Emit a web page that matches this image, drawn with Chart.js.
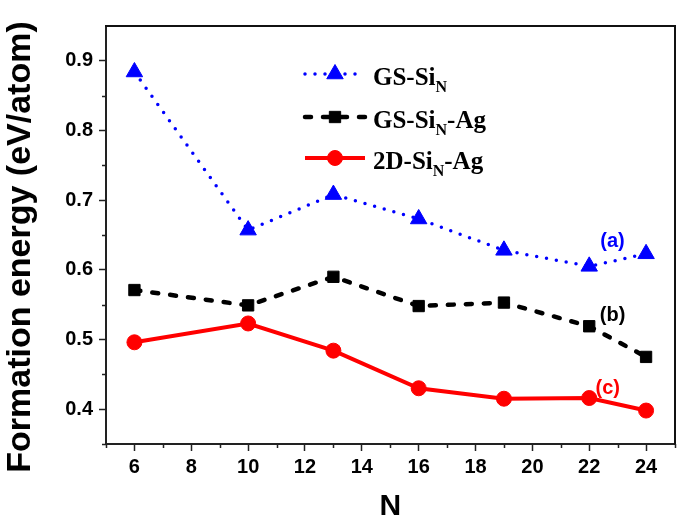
<!DOCTYPE html>
<html>
<head>
<meta charset="utf-8">
<script src="https://cdn.jsdelivr.net/npm/chart.js@4/dist/chart.umd.min.js"></script>
<style>
  html, body { margin: 0; padding: 0; background: #fff; overflow: hidden; }
  #wrap { width: 685px; height: 525px; }
  canvas { display: block; }
</style>
</head>
<body>
<div id="wrap"><canvas id="myChart" width="685" height="525"></canvas></div>
<script>
// Données
const nValues = [6, 10, 13, 16, 19, 22, 24];
const gsSi = [0.884, 0.657, 0.708, 0.673, 0.628, 0.605, 0.623];
const gsSiAg = [0.571, 0.549, 0.590, 0.548, 0.553, 0.519, 0.475];
const twoDSiAg = [0.496, 0.523, 0.484, 0.430, 0.415, 0.416, 0.398];

const xTicks = [6, 8, 10, 12, 14, 16, 18, 20, 22, 24];
const xMinor = [5, 7, 9, 11, 13, 15, 17, 19, 21, 23, 25];
const yTicks = [0.4, 0.5, 0.6, 0.7, 0.8, 0.9];
const yMinor = [0.35, 0.45, 0.55, 0.65, 0.75, 0.85];

// Noms de la légende : [avant, indice, après]
const legendNames = [["GS-Si", "N", ""], ["GS-Si", "N", "-Ag"], ["2D-Si", "N", "-Ag"]];
const curveTags = ["(a)", "(b)", "(c)"];
const tagX = [22.82, 22.82, 22.65];
const tagY = [0.640, 0.535, 0.430];
const yTitle = "Formation energy (eV/atom)";

const couleurs = ["#0000ff", "#000000", "#ff0000"];
const axisColor = "#222";

function toPoints(ys) {
    return nValues.map((x, i) => ({x: x, y: ys[i]}));
}

const datasets = [
    {
        label: "GS-SiN", data: toPoints(gsSi),
        borderColor: couleurs[0], backgroundColor: couleurs[0],
        borderWidth: 3.5, borderDash: [0, 10], borderCapStyle: "round",
        pointStyle: "triangle", pointRadius: 9.5, pointBorderWidth: 1
    },
    {
        label: "GS-SiN-Ag", data: toPoints(gsSiAg),
        borderColor: couleurs[1], backgroundColor: couleurs[1],
        borderWidth: 4.5, borderDash: [6, 12], borderCapStyle: "round",
        pointStyle: "rect", pointRadius: 8, pointBorderWidth: 1
    },
    {
        label: "2D-SiN-Ag", data: toPoints(twoDSiAg),
        borderColor: couleurs[2], backgroundColor: couleurs[2],
        borderWidth: 4,
        pointStyle: "circle", pointRadius: 7.5, pointBorderWidth: 1
    }
];

// Cadre, petites graduations, titre Y, légende et étiquettes (a)(b)(c)
const decorPlugin = {
    id: "decor",
    afterDraw(chart) {
        const ctx = chart.ctx;
        const a = chart.chartArea;
        const xs = chart.scales.x, ys = chart.scales.y;
        const left = Math.round(a.left), right = Math.round(a.right);
        const top = Math.round(a.top), bottom = Math.round(a.bottom);
        ctx.save();
        ctx.setLineDash([]);
        ctx.lineCap = "butt";
        ctx.globalAlpha = 1;
        ctx.globalCompositeOperation = "source-over";

        // cadre (haut et droite en rectangles pleins)
        ctx.fillStyle = "#111";
        ctx.fillRect(left - 1, top - 1, right - left + 2, 2);
        ctx.fillRect(right - 1, top - 1, 2, bottom - top + 2);

        // petites graduations
        ctx.strokeStyle = axisColor;
        ctx.lineWidth = 1.5;
        ctx.beginPath();
        xMinor.forEach(v => {
            const px = Math.round(xs.getPixelForValue(v)) + 0.5;
            ctx.moveTo(px, bottom);
            ctx.lineTo(px, bottom + 4);
        });
        yMinor.forEach(v => {
            const py = Math.round(ys.getPixelForValue(v)) + 0.5;
            ctx.moveTo(left, py);
            ctx.lineTo(left - 4, py);
        });
        ctx.stroke();

        // titre de l'axe Y
        ctx.save();
        ctx.translate(21, (top + bottom) / 2 + 12);
        ctx.rotate(-Math.PI / 2);
        ctx.fillStyle = "#000";
        ctx.font = "bold 34px 'Liberation Sans', Arial, sans-serif";
        ctx.textAlign = "center";
        ctx.textBaseline = "middle";
        ctx.fillText(yTitle, 0, 0);
        ctx.restore();

        // légende
        const rowsY = [74, 117, 158];
        const x0 = 305, x1 = 365, tx = 373;
        datasets.forEach((ds, i) => {
            const y = rowsY[i];
            ctx.save();
            ctx.strokeStyle = ds.borderColor;
            ctx.lineWidth = ds.borderWidth;
            ctx.lineCap = ds.borderCapStyle || "butt";
            ctx.setLineDash(ds.borderDash || []);
            ctx.beginPath();
            ctx.moveTo(x0, y);
            ctx.lineTo(x1, y);
            ctx.stroke();
            ctx.restore();
            ctx.fillStyle = ds.backgroundColor;
            ctx.strokeStyle = ds.borderColor;
            ctx.lineWidth = 1;
            Chart.helpers.drawPoint(ctx, {pointStyle: ds.pointStyle, radius: ds.pointRadius, rotation: 0, borderWidth: 1}, (x0 + x1) / 2, y);

            const nm = legendNames[i];
            const base = y + 11;
            ctx.fillStyle = "#000";
            ctx.textBaseline = "alphabetic";
            ctx.textAlign = "left";
            ctx.font = "bold 25px 'Liberation Serif', 'Times New Roman', serif";
            let cx = tx;
            ctx.fillText(nm[0], cx, base);
            cx += ctx.measureText(nm[0]).width;
            ctx.font = "bold 16px 'Liberation Serif', 'Times New Roman', serif";
            ctx.fillText(nm[1], cx, base + 7);
            cx += ctx.measureText(nm[1]).width;
            ctx.font = "bold 25px 'Liberation Serif', 'Times New Roman', serif";
            ctx.fillText(nm[2], cx, base);
        });

        // étiquettes des courbes
        ctx.font = "bold 20px 'Liberation Sans', Arial, sans-serif";
        ctx.textAlign = "center";
        ctx.textBaseline = "middle";
        curveTags.forEach((t, i) => {
            ctx.fillStyle = couleurs[i];
            ctx.fillText(t, xs.getPixelForValue(tagX[i]), ys.getPixelForValue(tagY[i]));
        });
        ctx.restore();
    }
};

const tickFont = {family: "'Liberation Sans', Arial, sans-serif", size: 20, weight: "bold"};

new Chart(document.getElementById("myChart").getContext("2d"), {
    type: "line",
    data: {datasets: datasets},
    options: {
        responsive: false,
        animation: false,
        devicePixelRatio: 1,
        layout: {padding: {top: 26, right: 6, left: 0, bottom: 0}},
        plugins: {legend: {display: false}, tooltip: {enabled: false}},
        scales: {
            x: {
                type: "linear", position: "bottom", min: 5, max: 25,
                afterFit: s => { s.height = 81; },
                afterBuildTicks: s => { s.ticks = xTicks.map(v => ({value: v})); },
                grid: {display: true, drawOnChartArea: false, drawTicks: true, tickLength: 7, tickWidth: 1.5, tickColor: axisColor},
                border: {display: true, color: axisColor, width: 2},
                ticks: {padding: 4, color: "#000", font: tickFont, maxRotation: 0, autoSkip: false},
                title: {
                    display: true, text: "N", color: "#000",
                    font: {family: "'Liberation Sans', Arial, sans-serif", size: 30, weight: "bold"},
                    padding: {top: 0, bottom: 0}
                }
            },
            y: {
                type: "linear", position: "left", min: 0.35, max: 0.95,
                afterFit: s => { s.width = 106; },
                afterBuildTicks: s => { s.ticks = yTicks.map(v => ({value: v})); },
                grid: {display: true, drawOnChartArea: false, drawTicks: true, tickLength: 7, tickWidth: 1.5, tickColor: axisColor},
                border: {display: true, color: axisColor, width: 2},
                ticks: {padding: 6, color: "#000", font: tickFont, callback: v => v.toFixed(1)},
                title: {display: false}
            }
        }
    },
    plugins: [decorPlugin]
});
</script>
</body>
</html>
